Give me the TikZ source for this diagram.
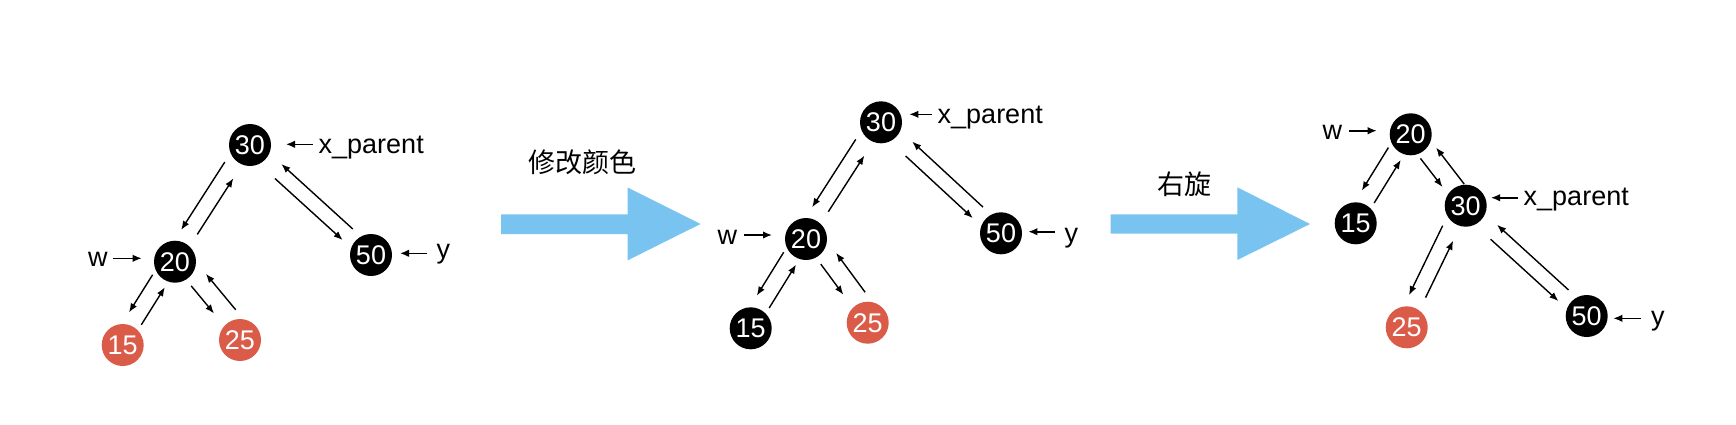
\documentclass[tikz,border=0pt]{standalone}
\usepackage{fontspec}
\setmainfont{Liberation Sans}
\newfontfamily\cjk{Noto Sans CJK SC}
\usetikzlibrary{calc,arrows.meta}
\definecolor{rbred}{HTML}{DB5B49}
\definecolor{flowblue}{HTML}{79C3F0}
\tikzset{
  bnode/.style={circle,fill=black,text=white,minimum size=42pt,inner sep=0pt,font=\fontsize{27}{27}\selectfont},
  rnode/.style={bnode,fill=rbred},
  lbl/.style={anchor=base west,inner sep=0pt,font=\fontsize{27}{27}\selectfont},
  ptr/.style={line width=1.6pt,-{Latex[length=9pt,width=7.5pt]}},
  tedge/.style={line width=1.4pt,-{Latex[length=9pt,width=7pt]}},
  bigarrow/.style={fill=flowblue,draw=none},
  ttl/.style={font=\cjk\fontsize{27}{27}\selectfont,inner sep=0pt}
}
\newcommand{\lnk}[5]{\draw[tedge] ($(#1)!#3!(#2)!#5!-90:(#2)$) -- ($(#2)!#4!(#1)!#5!90:(#1)$);}
\newcommand{\leftlong}[2]{\lnk{#1}{#2}{28pt}{30pt}{12pt}\lnk{#2}{#1}{35pt}{37pt}{4pt}}
\newcommand{\rightlong}[2]{\lnk{#1}{#2}{41pt}{31pt}{8pt}\lnk{#2}{#1}{31pt}{36pt}{7pt}}
\newcommand{\leftshort}[2]{\lnk{#1}{#2}{23pt}{31pt}{12pt}\lnk{#2}{#1}{27pt}{27pt}{5pt}}
\newcommand{\rightshort}[2]{\lnk{#1}{#2}{29pt}{37pt}{3pt}\lnk{#2}{#1}{26pt}{29pt}{16pt}}
\begin{document}
\begin{tikzpicture}[x=1pt,y=-1pt]
\useasboundingbox (0,0) rectangle (1736,424);

% ---------- tree 1 ----------
\node[bnode] (a30) at (250,145) {30};
\node[bnode] (a20) at (175,261.7) {20};
\node[bnode] (a50) at (371,255) {50};
\node[rnode] (a15) at (122.7,345) {15};
\node[rnode] (a25) at (240,340) {25};
\leftlong{a30}{a20}
\rightlong{a30}{a50}
\leftshort{a20}{a15}
\rightshort{a20}{a25}
\node[lbl] (aw) at (88,266) {w};
\node[lbl] (axp) at (318.5,153) {x\_parent};
\node[lbl] (ay) at (436.5,258.3) {y};
\coordinate (awt) at (113.3,258.3); \coordinate (awh) at (141.7,258.3);
\coordinate (axt) at (313,144.3);   \coordinate (axh) at (286,144.3);
\coordinate (ayt) at (427,253.3);   \coordinate (ayh) at (400,253.3);
\draw[ptr] (awt) -- (awh);
\draw[ptr] (axt) -- (axh);
\draw[ptr] (ayt) -- (ayh);

% ---------- arrow 1 ----------
\fill[bigarrow] (501,214.3) -- (627.7,214.3) -- (627.7,187.5) -- (700.5,224) -- (627.7,260.3) -- (627.7,234) -- (501,234) -- cycle;
\node[ttl] (t1) at (582,162.3) {修改颜色};

% ---------- tree 2 ----------
\node[bnode] (b30) at (881,122.3) {30};
\node[bnode] (b20) at (806,239) {20};
\node[bnode] (b50) at (1001,233.3) {50};
\node[bnode] (b15) at (750.7,328.3) {15};
\node[rnode] (b25) at (867.7,322.7) {25};
\leftlong{b30}{b20}
\rightlong{b30}{b50}
\leftshort{b20}{b15}
\rightshort{b20}{b25}
\node[lbl] (bw) at (717.5,244) {w};
\node[lbl] (bxp) at (937.5,123) {x\_parent};
\node[lbl] (by) at (1064.5,242) {y};
\coordinate (bwt) at (744,235);     \coordinate (bwh) at (772,235);
\coordinate (bxt) at (931.7,114.3); \coordinate (bxh) at (909.3,114.3);
\coordinate (byt) at (1055,231.7);  \coordinate (byh) at (1028.3,231.7);
\draw[ptr] (bwt) -- (bwh);
\draw[ptr] (bxt) -- (bxh);
\draw[ptr] (byt) -- (byh);

% ---------- arrow 2 ----------
\fill[bigarrow] (1110.7,214.3) -- (1237.3,214.3) -- (1237.3,187.3) -- (1310,224) -- (1237.3,260) -- (1237.3,233.7) -- (1110.7,233.7) -- cycle;
\node[ttl] (t2) at (1184,184.5) {右旋};

% ---------- tree 3 ----------
\node[bnode] (c20) at (1410.7,134.3) {20};
\node[bnode] (c15) at (1355.7,223.3) {15};
\node[bnode] (c30) at (1465.7,205.7) {30};
\node[rnode] (c25) at (1406.7,327.3) {25};
\node[bnode] (c50) at (1586.7,316) {50};
\leftshort{c20}{c15}
\lnk{c20}{c30}{25pt}{29pt}{7pt}
\lnk{c30}{c20}{18pt}{26pt}{12pt}
\leftlong{c30}{c25}
\rightlong{c30}{c50}
\node[lbl] (cw) at (1322.5,139) {w};
\node[lbl] (cxp) at (1523.5,205) {x\_parent};
\node[lbl] (cy) at (1651,325) {y};
\coordinate (cwt) at (1349.3,130.7); \coordinate (cwh) at (1376.7,130.7);
\coordinate (cxt) at (1517.7,197.7); \coordinate (cxh) at (1491,197.7);
\coordinate (cyt) at (1641,318.3);   \coordinate (cyh) at (1613.3,318.3);
\draw[ptr] (cwt) -- (cwh);
\draw[ptr] (cxt) -- (cxh);
\draw[ptr] (cyt) -- (cyh);
\end{tikzpicture}
\end{document}
